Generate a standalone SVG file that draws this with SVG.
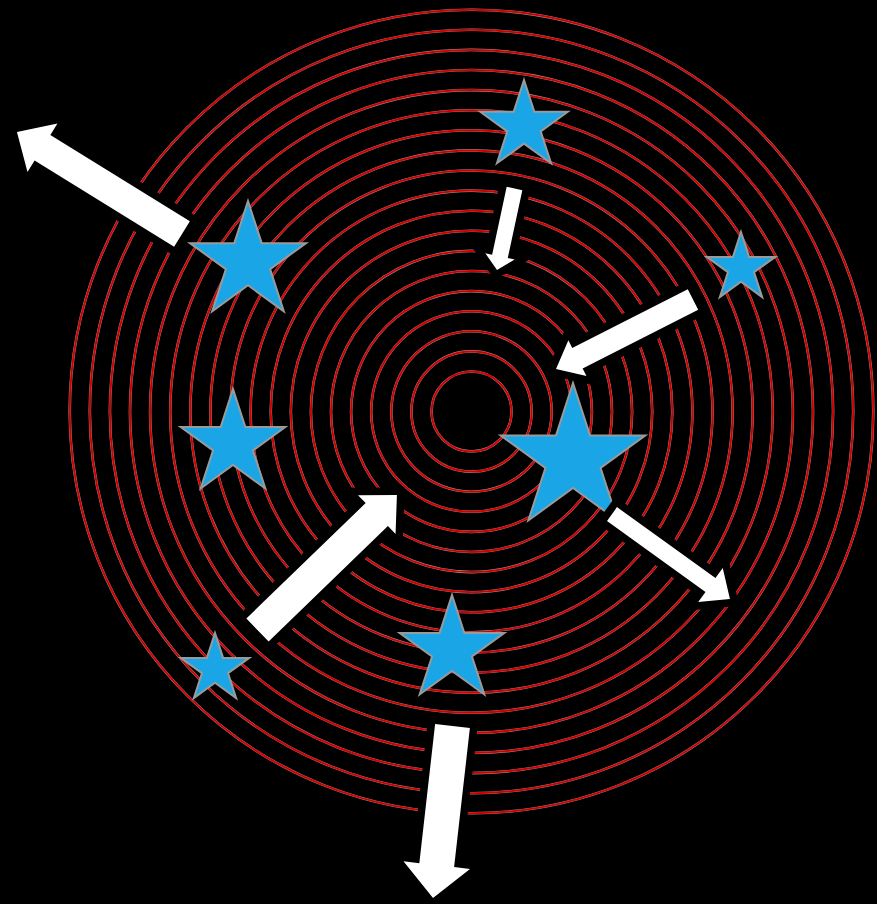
<svg xmlns="http://www.w3.org/2000/svg" xmlns:xlink="http://www.w3.org/1999/xlink" width="877" height="904" viewBox="0 0 877 904">
  <style>
    .ringglow { fill: none; stroke: #9a9a9a; stroke-width: 2.6; }
    .ring { fill: none; stroke: #d00000; stroke-width: 2; }
    .star { fill: #1aa6e6; stroke: #9a9a9a; stroke-width: 2; stroke-linejoin: miter; }
    .arrow { fill: #ffffff; stroke: #000000; stroke-width: 15; stroke-linejoin: miter; stroke-miterlimit: 10; paint-order: stroke; }
  </style>
  <defs>
    <polygon id="starShape" class="star" vector-effect="non-scaling-stroke" points="0,-100 22.45,-30.9 95.11,-30.9 36.33,11.8 58.78,80.9 0,38.2 -58.78,80.9 -36.33,11.8 -95.11,-30.9 -22.45,-30.9"/>
  </defs>
  <rect x="0" y="0" width="877" height="904" fill="#000000"/>
  <g id="rings" transform="translate(471.5,411.5)">
    <g class="ringglow">
      <circle r="40"/><circle r="60.1"/><circle r="80.2"/><circle r="100.3"/><circle r="120.4"/><circle r="140.5"/><circle r="160.6"/><circle r="180.7"/><circle r="200.8"/><circle r="220.9"/><circle r="241"/><circle r="261.1"/><circle r="281.2"/><circle r="301.3"/><circle r="321.4"/><circle r="341.5"/><circle r="361.6"/><circle r="381.7"/><circle r="401.8"/>
    </g>
    <g class="ring">
      <circle r="40"/><circle r="60.1"/><circle r="80.2"/><circle r="100.3"/><circle r="120.4"/><circle r="140.5"/><circle r="160.6"/><circle r="180.7"/><circle r="200.8"/><circle r="220.9"/><circle r="241"/><circle r="261.1"/><circle r="281.2"/><circle r="301.3"/><circle r="321.4"/><circle r="341.5"/><circle r="361.6"/><circle r="381.7"/><circle r="401.8"/>
    </g>
  </g>
  <g id="star1"><use href="#starShape" transform="translate(524,126) scale(0.46)"/></g>
  <g id="star2"><use href="#starShape" transform="translate(741,268) scale(0.36)"/></g>
  <g id="star3"><use href="#starShape" transform="translate(248,262) scale(0.61)"/></g>
  <g id="star4"><use href="#starShape" transform="translate(233,444) scale(0.55)"/></g>
  <g id="star5"><use href="#starShape" transform="translate(573,459) scale(0.76)"/></g>
  <g id="star6"><use href="#starShape" transform="translate(452,650) scale(0.55)"/></g>
  <g id="star7"><use href="#starShape" transform="translate(215,669) scale(0.36)"/></g>
  <g id="connectors">
    <path id="arrowA" class="arrow" transform="translate(182,234) rotate(211.7)" d="M0,-15 L164,-15 L164,-28.5 L194,0 L164,28.5 L164,15 L0,15 Z"/>
    <path id="arrowB" class="arrow" transform="translate(514.5,188.5) rotate(102.1)" d="M0,-8 L69.4,-8 L69.4,-15 L83.4,0 L69.4,15 L69.4,8 L0,8 Z"/>
    <path id="arrowC" class="arrow" transform="translate(693,299.5) rotate(153.1)" d="M0,-11.5 L129.6,-11.5 L129.6,-20 L153.6,0 L129.6,20 L129.6,11.5 L0,11.5 Z"/>
    <path id="arrowD" class="arrow" transform="translate(257.5,630) rotate(-44.06)" d="M0,-16 L166,-16 L166,-27 L194,0 L166,27 L166,16 L0,16 Z"/>
    <path id="arrowE" class="arrow" transform="translate(612,514) rotate(35.8)" d="M0,-8.5 L121.4,-8.5 L121.4,-21 L145.4,0 L121.4,21 L121.4,8.5 L0,8.5 Z"/>
    <path id="arrowF" class="arrow" transform="translate(452.5,726) rotate(96.47)" d="M0,-17.5 L140,-17.5 L140,-33.5 L173,0 L140,33.5 L140,17.5 L0,17.5 Z"/>
  </g>
</svg>
